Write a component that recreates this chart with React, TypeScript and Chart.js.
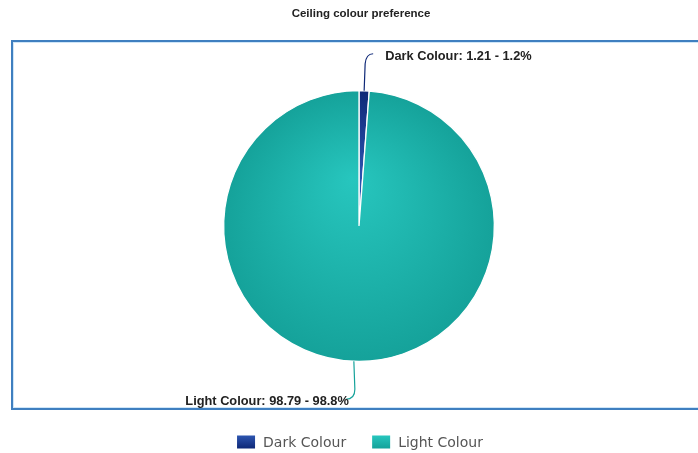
import React, { useEffect, useRef } from "react";
import { Chart, registerables } from "chart.js";

Chart.register(...registerables);

const TITLE = "Ceiling colour preference";
const LABELS = ["Dark Colour", "Light Colour"];
const VALUES = [1.21, 98.79];
const PERCENT_TEXT = ["1.2%", "98.8%"];
const INNER_COLORS = ["#2d55b0", "#27c6be"];
const OUTER_COLORS = ["#0e2877", "#15a29a"];

const overlayPlugin = {
  id: "overlay",
  beforeDraw(chart: any) {
    const ctx = chart.ctx;
    ctx.save();
    ctx.fillStyle = "#ffffff";
    ctx.fillRect(0, 0, chart.width, chart.height);
    // frame
    ctx.strokeStyle = "#cfe6f8";
    ctx.lineWidth = 1;
    ctx.strokeRect(13.5, 42.5, 720, 365);
    ctx.strokeStyle = "#3f7fc0";
    ctx.lineWidth = 2;
    ctx.strokeRect(12, 41, 720, 368);
    // title
    ctx.fillStyle = "#222222";
    ctx.font = "bold 11.5px 'Liberation Sans', Arial, sans-serif";
    ctx.textAlign = "center";
    ctx.textBaseline = "middle";
    ctx.fillText(TITLE, 361, 14);
    ctx.restore();
  },
  afterDraw(chart: any) {
    const ctx = chart.ctx;
    const meta = chart.getDatasetMeta(0);
    ctx.save();
    meta.data.forEach((arc: any, i: number) => {
      const mid = (arc.startAngle + arc.endAngle) / 2;
      const r = arc.outerRadius;
      const ax = arc.x + r * Math.cos(mid);
      const ay = arc.y + r * Math.sin(mid);
      const up = Math.sin(mid) < 0;
      const text = `${LABELS[i]}: ${VALUES[i]} - ${PERCENT_TEXT[i]}`;
      ctx.strokeStyle = OUTER_COLORS[i];
      ctx.lineWidth = 1.2;
      ctx.beginPath();
      ctx.moveTo(ax, ay);
      ctx.font = "bold 12.8px 'Liberation Sans', Arial, sans-serif";
      ctx.fillStyle = "#222222";
      ctx.textBaseline = "middle";
      if (up) {
        const ey = ay - 27;
        ctx.lineTo(ax + 1, ey);
        ctx.quadraticCurveTo(ax + 2, ey - 10, ax + 9, ey - 10);
        ctx.stroke();
        ctx.textAlign = "left";
        ctx.fillText(text, ax + 21, ey - 7);
      } else {
        const ey = ay + 28;
        ctx.lineTo(ax + 1, ey);
        ctx.quadraticCurveTo(ax + 1, ey + 10, ax - 8, ey + 10);
        ctx.stroke();
        ctx.textAlign = "right";
        ctx.fillText(text, ax - 5, ey + 12);
      }
    });
    // legend
    ctx.font = "14px 'DejaVu Sans', sans-serif";
    ctx.textAlign = "left";
    ctx.textBaseline = "middle";
    const boxW = 18, boxH = 13, gapText = 8, gapItem = 26;
    const widths = LABELS.map((l) => ctx.measureText(l).width);
    const total = widths.reduce((s, w) => s + boxW + gapText + w, 0) + gapItem * (LABELS.length - 1);
    let x = 360 - total / 2;
    const y = 442;
    LABELS.forEach((l, i) => {
      const g = ctx.createLinearGradient(x, y - boxH / 2, x, y + boxH / 2);
      g.addColorStop(0, INNER_COLORS[i]);
      g.addColorStop(1, OUTER_COLORS[i]);
      ctx.fillStyle = g;
      ctx.fillRect(x, y - boxH / 2, boxW, boxH);
      ctx.fillStyle = "#555555";
      ctx.fillText(l, x + boxW + gapText, y + 1);
      x += boxW + gapText + widths[i] + gapItem;
    });
    ctx.restore();
  },
};

export default function App() {
  const ref = useRef<HTMLCanvasElement>(null);
  useEffect(() => {
    if (!ref.current) return;
    const chart = new Chart(ref.current, {
      type: "pie",
      data: {
        labels: LABELS,
        datasets: [
          {
            data: VALUES,
            backgroundColor: (c: any) => {
              const ch = c.chart;
              const area = ch.chartArea;
              const i = c.dataIndex;
              if (!area) return OUTER_COLORS[i];
              const cx = (area.left + area.right) / 2;
              const cy = (area.top + area.bottom) / 2;
              const r = Math.min(area.right - area.left, area.bottom - area.top) / 2;
              const g = ch.ctx.createRadialGradient(cx - r * 0.05, cy - r * 0.35, 0, cx, cy, r);
              g.addColorStop(0, INNER_COLORS[i]);
              g.addColorStop(1, OUTER_COLORS[i]);
              return g;
            },
            borderColor: "#ffffff",
            borderWidth: 1.3,
          },
        ],
      },
      options: {
        responsive: false,
        animation: false,
        layout: { padding: { top: 90, bottom: 91, left: 223, right: 203 } },
        plugins: {
          legend: { display: false },
          title: { display: false },
          tooltip: { enabled: false },
        },
      },
      plugins: [overlayPlugin],
    });
    return () => chart.destroy();
  }, []);
  return (
    <div style={{ position: "absolute", left: 0, top: 0, width: 698, height: 453 }}>
      <canvas ref={ref} width={698} height={453} />
    </div>
  );
}
